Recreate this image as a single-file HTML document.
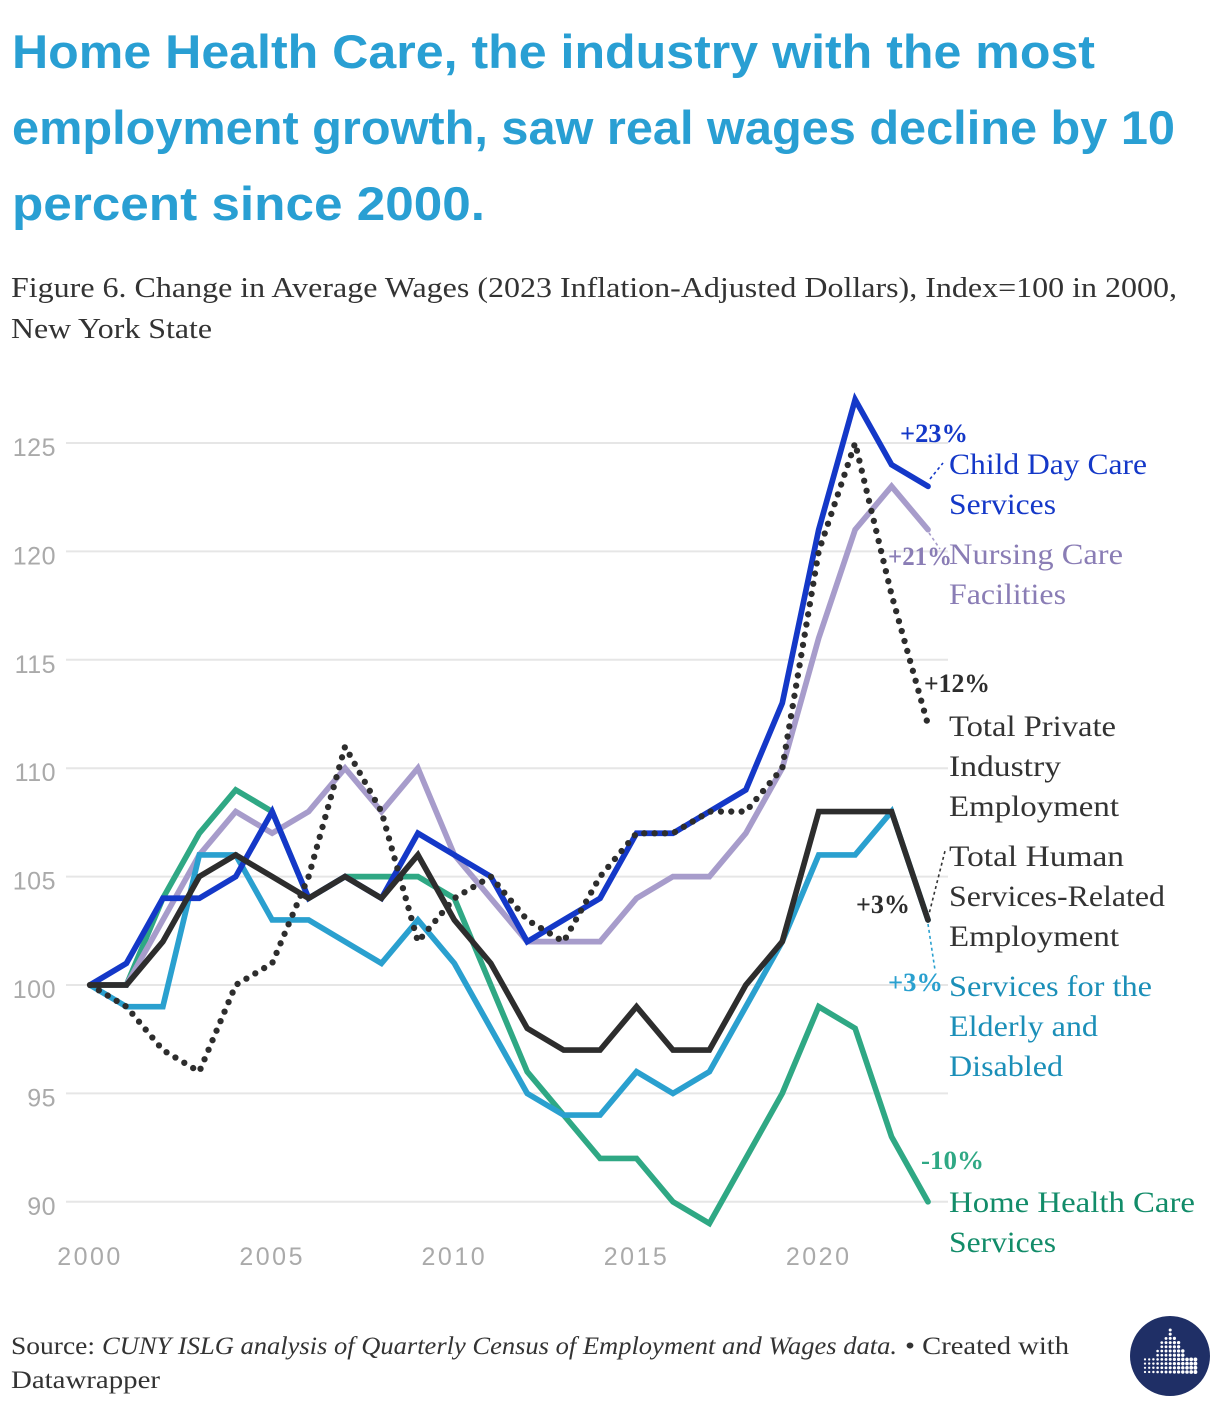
<!DOCTYPE html>
<html lang="en">
<head>
<meta charset="utf-8">
<title>Home Health Care wages chart</title>
<style>
  html, body { margin: 0; padding: 0; background: #fff; width: 1220px; height: 1406px; overflow: hidden; }
  svg { display: block; }
  .title { font-family: "Liberation Sans", sans-serif; font-weight: 700; font-size: 47px; fill: #299fd3; }
  .sub { font-family: "Liberation Serif", serif; font-size: 29px; fill: #333; }
  .lab { font-family: "Liberation Serif", serif; font-size: 30px; }
  .val { font-family: "Liberation Serif", serif; font-size: 26px; font-weight: 700; }
  .src { font-family: "Liberation Serif", serif; font-size: 25px; fill: #333; }
  .tick { font-family: "Liberation Sans", sans-serif; font-size: 25px; fill: #aaa; }
</style>
</head>
<body>
<svg id="root" xmlns="http://www.w3.org/2000/svg" width="1220" height="1406" viewBox="0 0 1220 1406">
  <g>
    <text class="title" x="12" y="68" textLength="1083" lengthAdjust="spacingAndGlyphs">Home Health Care, the industry with the most</text>
    <text class="title" x="12" y="144" textLength="1163" lengthAdjust="spacingAndGlyphs">employment growth, saw real wages decline by 10</text>
    <text class="title" x="12" y="220" textLength="473" lengthAdjust="spacingAndGlyphs">percent since 2000.</text>
  </g>
  <g>
    <text class="sub" x="11" y="297" textLength="1166" lengthAdjust="spacingAndGlyphs">Figure 6. Change in Average Wages (2023 Inflation-Adjusted Dollars), Index=100 in 2000,</text>
    <text class="sub" x="11" y="338" textLength="201" lengthAdjust="spacingAndGlyphs">New York State</text>
  </g>

  <g id="grid"></g>
  <g id="yticks"></g>
  <g id="xticks"></g>
  <g id="lines"></g>

  <g fill="none" stroke-width="1.6" stroke-dasharray="3 3">
    <line x1="930" y1="479" x2="943" y2="463" stroke="#1438c8"/>
    <line x1="929" y1="533" x2="940" y2="549" stroke="#a79ccb"/>
    <line x1="928" y1="918" x2="945" y2="851" stroke="#333"/>
    <line x1="928" y1="924" x2="935" y2="970" stroke="#2aa0cf"/>
  </g>

  <g>
    <text class="val" x="900" y="442" textLength="68" lengthAdjust="spacingAndGlyphs" fill="#1438c8">+23%</text>
    <text class="val" x="888" y="565" textLength="64" lengthAdjust="spacingAndGlyphs" fill="#8a7db5">+21%</text>
    <text class="val" x="924" y="692" textLength="66" lengthAdjust="spacingAndGlyphs" fill="#2d2d2d">+12%</text>
    <text class="val" x="856" y="913" textLength="54" lengthAdjust="spacingAndGlyphs" fill="#2d2d2d">+3%</text>
    <text class="val" x="888" y="991" textLength="55" lengthAdjust="spacingAndGlyphs" fill="#2aa0cf">+3%</text>
    <text class="val" x="921" y="1169" textLength="63" lengthAdjust="spacingAndGlyphs" fill="#2fa884">-10%</text>
  </g>

  <g>
    <g fill="#1438c8">
      <text class="lab" x="949" y="474" textLength="198" lengthAdjust="spacingAndGlyphs">Child Day Care</text>
      <text class="lab" x="949" y="514" textLength="107" lengthAdjust="spacingAndGlyphs">Services</text>
    </g>
    <g fill="#8a7db5">
      <text class="lab" x="949" y="564" textLength="174" lengthAdjust="spacingAndGlyphs">Nursing Care</text>
      <text class="lab" x="949" y="604" textLength="117" lengthAdjust="spacingAndGlyphs">Facilities</text>
    </g>
    <g fill="#333">
      <text class="lab" x="949" y="736" textLength="167" lengthAdjust="spacingAndGlyphs">Total Private</text>
      <text class="lab" x="949" y="776" textLength="112" lengthAdjust="spacingAndGlyphs">Industry</text>
      <text class="lab" x="949" y="816" textLength="170" lengthAdjust="spacingAndGlyphs">Employment</text>
    </g>
    <g fill="#333">
      <text class="lab" x="949" y="866" textLength="175" lengthAdjust="spacingAndGlyphs">Total Human</text>
      <text class="lab" x="949" y="906" textLength="216" lengthAdjust="spacingAndGlyphs">Services-Related</text>
      <text class="lab" x="949" y="946" textLength="170" lengthAdjust="spacingAndGlyphs">Employment</text>
    </g>
    <g fill="#1b8fb8">
      <text class="lab" x="949" y="996" textLength="203" lengthAdjust="spacingAndGlyphs">Services for the</text>
      <text class="lab" x="949" y="1036" textLength="149" lengthAdjust="spacingAndGlyphs">Elderly and</text>
      <text class="lab" x="949" y="1076" textLength="114" lengthAdjust="spacingAndGlyphs">Disabled</text>
    </g>
    <g fill="#128c69">
      <text class="lab" x="949" y="1212" textLength="246" lengthAdjust="spacingAndGlyphs">Home Health Care</text>
      <text class="lab" x="949" y="1252" textLength="107" lengthAdjust="spacingAndGlyphs">Services</text>
    </g>
  </g>

  <g>
    <text class="src" x="11" y="1354" textLength="84" lengthAdjust="spacingAndGlyphs">Source:</text>
    <text class="src" x="102" y="1354" font-style="italic" textLength="795" lengthAdjust="spacingAndGlyphs">CUNY ISLG analysis of Quarterly Census of Employment and Wages data.</text>
    <text class="src" x="905" y="1354" textLength="164" lengthAdjust="spacingAndGlyphs">• Created with</text>
    <text class="src" x="11" y="1388" textLength="149" lengthAdjust="spacingAndGlyphs">Datawrapper</text>
  </g>

  <g id="logo">
    <circle cx="1170" cy="1356" r="40" fill="#1f2f66"/>
  </g>
</svg>
<script>
var years = [2000,2001,2002,2003,2004,2005,2006,2007,2008,2009,2010,2011,2012,2013,2014,2015,2016,2017,2018,2019,2020,2021,2022,2023];
var homeHealth = [100,100,104,107,109,108,104,105,105,105,104,100,96,94,92,92,90,89,92,95,99,98,93,90];
var nursingCare = [100,100,103,106,108,107,108,110,108,110,106,104,102,102,102,104,105,105,107,110,116,121,123,121];
var elderly = [100,99,99,106,106,103,103,102,101,103,101,98,95,94,94,96,95,96,99,102,106,106,108,103];
var childDayCare = [100,101,104,104,105,108,104,105,104,107,106,105,102,103,104,107,107,108,109,113,121,127,124,123];
var totalPrivate = [100,99,97,96,100,101,105,111,108,102,104,105,103,102,105,107,107,108,108,110,120,125,118,112];
var humanServices = [100,100,102,105,106,105,104,105,104,106,103,101,98,97,97,99,97,97,100,102,108,108,108,103];
var yTicks = [90,95,100,105,110,115,120,125];
var xTicks = [2000,2005,2010,2015,2020];

var NS = 'http://www.w3.org/2000/svg';
function x(year) { return 90 + (year - 2000) * (928 - 90) / 23; }
function y(v) { return 985 - (v - 100) * (985 - 443) / 25; }
function linePath(values) {
  var d = '';
  for (var i = 0; i < values.length; i++) {
    d += (i ? 'L' : 'M') + x(years[i]).toFixed(2) + ' ' + y(values[i]).toFixed(2);
  }
  return d;
}

var grid = document.getElementById('grid');
var yLabels = document.getElementById('yticks');
var xLabels = document.getElementById('xticks');
var linesGroup = document.getElementById('lines');
var logo = document.getElementById('logo');

yTicks.forEach(function (t) {
  var gl = document.createElementNS(NS, 'line');
  
  
  gl.setAttribute('x1', 66);
  gl.setAttribute('x2', 948);
  gl.setAttribute('y1', y(t));
  gl.setAttribute('y2', y(t));
  gl.setAttribute('stroke', '#e6e6e6');
  gl.setAttribute('stroke-width', 2);
  grid.appendChild(gl);

  var lb = document.createElementNS(NS, 'text');
  
  
  lb.setAttribute('class', 'tick');
  lb.setAttribute('x', 56);
  lb.setAttribute('y', y(t) + 13);
  lb.setAttribute('text-anchor', 'end');
  lb.setAttribute('letter-spacing', '0.5');
  lb.textContent = t;
  yLabels.appendChild(lb);
});

xTicks.forEach(function (t) {
  var lb = document.createElementNS(NS, 'text');
  
  
  lb.setAttribute('class', 'tick');
  lb.setAttribute('x', x(t));
  lb.setAttribute('y', 1265);
  lb.setAttribute('text-anchor', 'middle');
  lb.setAttribute('letter-spacing', '2.5');
  lb.textContent = t;
  xLabels.appendChild(lb);
});

function addLine(values, color, name, dotted) {
  var p = document.createElementNS(NS, 'path');
  
  
  p.setAttribute('d', linePath(values));
  p.setAttribute('fill', 'none');
  p.setAttribute('stroke', color);
  p.setAttribute('stroke-width', dotted ? 6.3 : 5.7);
  p.setAttribute('stroke-linejoin', 'miter');
  p.setAttribute('stroke-linecap', 'round');
  if (dotted) {
    p.setAttribute('stroke-dasharray', '0 10.33');
  }
  linesGroup.appendChild(p);
}
addLine(homeHealth, '#2fa884', 'line-home-health', false);
addLine(nursingCare, '#a79ccb', 'line-nursing-care', false);
addLine(elderly, '#2aa0cf', 'line-elderly-disabled', false);
addLine(childDayCare, '#1438c8', 'line-child-day-care', false);
addLine(totalPrivate, '#2d2d2d', 'line-total-private', true);
addLine(humanServices, '#2d2d2d', 'line-human-services', false);

var logoRowStart = [6,6,5,4,4,3,3,0,0,0,0];
var logoRowEnd = [6,6,7,8,8,9,9,12,12,12,12];
logoRowStart.forEach(function (start, r) {
  for (var c = start; c <= logoRowEnd[r]; c++) {
    var dot = document.createElementNS(NS, 'circle');
    
    
    dot.setAttribute('cx', 1145 + c * 4.2);
    dot.setAttribute('cy', 1330 + r * 4.2);
    dot.setAttribute('r', 1.1 + c * 0.07);
    dot.setAttribute('fill', '#fff');
    logo.appendChild(dot);
  }
});
</script>
</body>
</html>
